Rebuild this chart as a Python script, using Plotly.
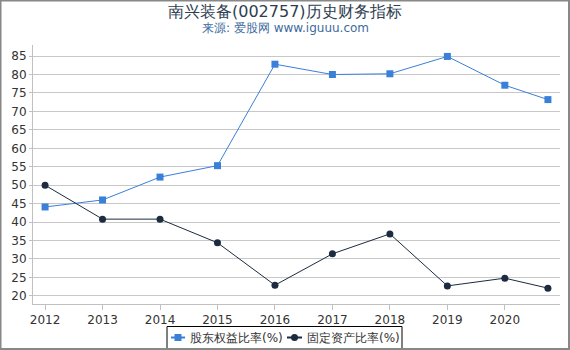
import plotly.graph_objects as go

years = [2012, 2013, 2014, 2015, 2016, 2017, 2018, 2019, 2020, 2020.75]
tick_vals = [2012, 2013, 2014, 2015, 2016, 2017, 2018, 2019, 2020]
tick_text = ["2012", "2013", "2014", "2015", "2016", "2017", "2018", "2019", "2020"]
equity_ratio = [44.1, 46.0, 52.2, 55.3, 82.8, 80.0, 80.2, 84.9, 77.1, 73.2]
fixed_asset_ratio = [50.0, 40.8, 40.8, 34.4, 22.9, 31.4, 36.8, 22.7, 24.8, 22.1]
y_ticks = [20, 25, 30, 35, 40, 45, 50, 55, 60, 65, 70, 75, 80, 85]
series_names = ["股东权益比率(%)", "固定资产比率(%)"]
series_colors = ["#3a80d8", "#1c2b40"]
title_text = "南兴装备(002757)历史财务指标"
subtitle_text = "来源: 爱股网 www.iguuu.com"

W, H = 570, 350
ml, mr, mt, mb = 33, 10, 45, 46
pw, ph = W - ml - mr, H - mt - mb


def px(x):
    return (x - ml) / pw


def py(y):
    return 1 - (y - mt) / ph


fig = go.Figure()
fig.add_trace(go.Scatter(
    x=years, y=equity_ratio, mode="lines+markers", name=series_names[0],
    line=dict(color=series_colors[0], width=1),
    marker=dict(symbol="square", size=7, color=series_colors[0]),
))
fig.add_trace(go.Scatter(
    x=years, y=fixed_asset_ratio, mode="lines+markers", name=series_names[1],
    line=dict(color=series_colors[1], width=1),
    marker=dict(symbol="circle", size=7, color=series_colors[1]),
))

fig.update_layout(
    width=W, height=H,
    margin=dict(l=ml, r=mr, t=mt, b=mb, autoexpand=False),
    paper_bgcolor="white", plot_bgcolor="white",
    font=dict(family="DejaVu Sans", color="#333333", size=12),
    showlegend=False,
    xaxis=dict(
        range=[2011.79, 2020.96], tickmode="array", tickvals=tick_vals, ticktext=tick_text,
        showgrid=False, zeroline=False, showline=True, linecolor="#c0c0c0", linewidth=1,
        ticks="outside", ticklen=5, tickcolor="#c0c0c0", tickfont=dict(size=12, color="#333333"),
    ),
    yaxis=dict(
        range=[17.8, 88], tickmode="array", tickvals=y_ticks,
        showgrid=True, gridcolor="#c8c8c8", gridwidth=1, zeroline=False,
        showline=True, linecolor="#c0c0c0", linewidth=1,
        ticks="outside", ticklen=3, tickcolor="#c0c0c0", tickfont=dict(size=12, color="#333333"),
    ),
)

# Title and subtitle
fig.add_annotation(text=title_text, xref="paper", yref="paper",
                   x=px(W / 2), y=py(11), xanchor="center", yanchor="middle",
                   showarrow=False, font=dict(size=16, color="#2e3e50"))
fig.add_annotation(text=subtitle_text, xref="paper", yref="paper",
                   x=px(W / 2), y=py(28), xanchor="center", yanchor="middle",
                   showarrow=False, font=dict(size=12, color="#3d6a9e"))

# Legend (drawn as decoration below the chart)
leg_y = 337.5
fig.add_shape(type="rect", xref="paper", yref="paper",
              x0=px(167), x1=px(402), y0=py(326.5), y1=py(349),
              line=dict(color="black", width=1), fillcolor="white", layer="above")
# item 1: line + square
fig.add_shape(type="line", xref="paper", yref="paper",
              x0=px(171), x1=px(185), y0=py(leg_y), y1=py(leg_y),
              line=dict(color=series_colors[0], width=2), layer="above")
fig.add_shape(type="rect", xref="paper", yref="paper",
              x0=px(174.5), x1=px(181.5), y0=py(leg_y - 3.5), y1=py(leg_y + 3.5),
              line=dict(width=0), fillcolor=series_colors[0], layer="above")
fig.add_annotation(text=series_names[0], xref="paper", yref="paper",
                   x=px(188), y=py(leg_y), xanchor="left", yanchor="middle",
                   showarrow=False, font=dict(size=12, color="#333333"))
# item 2: line + circle
fig.add_shape(type="line", xref="paper", yref="paper",
              x0=px(287), x1=px(302), y0=py(leg_y), y1=py(leg_y),
              line=dict(color=series_colors[1], width=2), layer="above")
fig.add_shape(type="circle", xref="paper", yref="paper",
              x0=px(291), x1=px(298), y0=py(leg_y - 3.5), y1=py(leg_y + 3.5),
              line=dict(width=0), fillcolor=series_colors[1], layer="above")
fig.add_annotation(text=series_names[1], xref="paper", yref="paper",
                   x=px(305), y=py(leg_y), xanchor="left", yanchor="middle",
                   showarrow=False, font=dict(size=12, color="#333333"))

# Outer frame
fig.add_shape(type="rect", xref="paper", yref="paper",
              x0=px(0.5), x1=px(W - 1), y0=py(H - 1), y1=py(0.5),
              line=dict(color="#888888", width=2), layer="above")

fig.write_html("out.html")
